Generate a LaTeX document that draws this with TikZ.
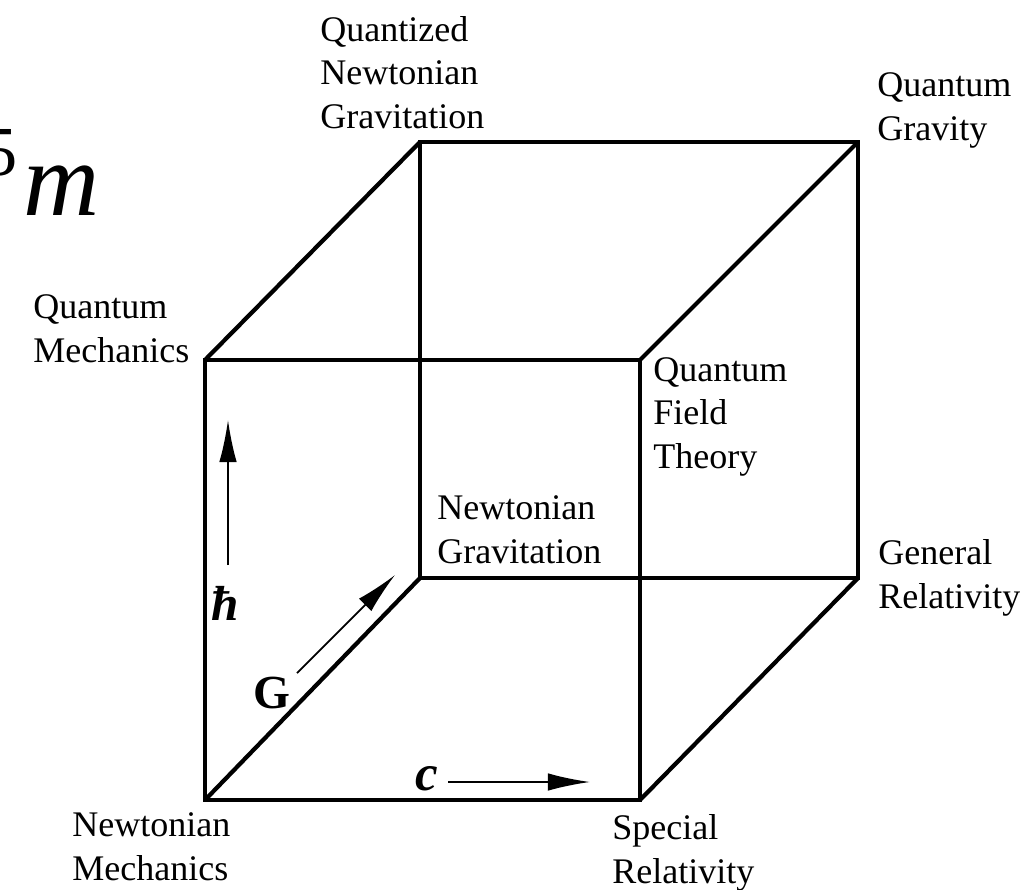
\documentclass[tikz,border=0pt]{standalone}
\usepackage{fontspec}
\setmainfont{Liberation Serif}
\usepackage{tikz}
\usetikzlibrary{arrows.meta}

\begin{document}
\begin{tikzpicture}[
  x=0.02cm,y=-0.02cm,
  edge/.style={line width=2.4pt,line join=miter},
  lbl/.style={anchor=base west,align=left,inner sep=0pt,font=\fontsize{20.5}{24.5}\selectfont},
  ax/.style={-{Latex[length=24pt,width=10pt]},line width=1pt},
  sym/.style={anchor=base,inner sep=0pt}
]
\useasboundingbox (0,0) rectangle (1020,889);

% corners of the cube
\coordinate (nm) at (205,800);
\coordinate (sr) at (640,800);
\coordinate (qm) at (205,360);
\coordinate (qft) at (640,360);
\coordinate (ng) at (420,578);
\coordinate (gr) at (858,578);
\coordinate (qng) at (420,142);
\coordinate (qg) at (858,142);

\draw[edge] (ng) -- (gr) -- (qg) -- (qng) -- cycle;
\draw[edge] (nm) -- (ng);
\draw[edge] (sr) -- (gr);
\draw[edge] (qft) -- (qg);
\draw[edge] (qm) -- (qng);
\draw[edge] (nm) -- (sr) -- (qft) -- (qm) -- cycle;

% theory names (placed at the baseline of the last line)
\node[lbl] (lqng) at (320,128) {Quantized\\Newtonian\\Gravitation};
\node[lbl] (lqg) at (877,140) {Quantum\\Gravity};
\node[lbl] (lqm) at (33,362) {Quantum\\Mechanics};
\node[lbl] (lqft) at (653,468) {Quantum\\Field\\Theory};
\node[lbl] (lng) at (437,563) {Newtonian\\Gravitation};
\node[lbl] (lgr) at (878,608) {General\\Relativity};
\node[lbl] (lnm) at (72,880) {Newtonian\\Mechanics};
\node[lbl] (lsr) at (612,883) {Special\\Relativity};

% constants
\coordinate (hfrom) at (228,565);
\coordinate (hto) at (228,420);
\draw[ax] (hfrom) -- (hto);
\node[sym,font=\fontsize{28}{30}\selectfont\bfseries\itshape] (hbar) at (225,620) {ħ};

\coordinate (gfrom) at (297,673);
\coordinate (gto) at (395,575);
\draw[ax] (gfrom) -- (gto);
\node[sym,font=\fontsize{27}{30}\selectfont\bfseries] (grav) at (272,708) {G};

\coordinate (cfrom) at (448,782);
\coordinate (cto) at (590,782);
\draw[ax] (cfrom) -- (cto);
\node[sym,font=\fontsize{29}{30}\selectfont\bfseries\itshape] (light) at (427,790) {c};

% cut-off fragment at the top left
\node[anchor=base east,inner sep=0pt,font=\fontsize{40}{40}\selectfont] (five) at (18,175) {5};
\node[anchor=base west,inner sep=0pt,font=\fontsize{60}{60}\selectfont\itshape] (em) at (23,215) {m};
\end{tikzpicture}
\end{document}
